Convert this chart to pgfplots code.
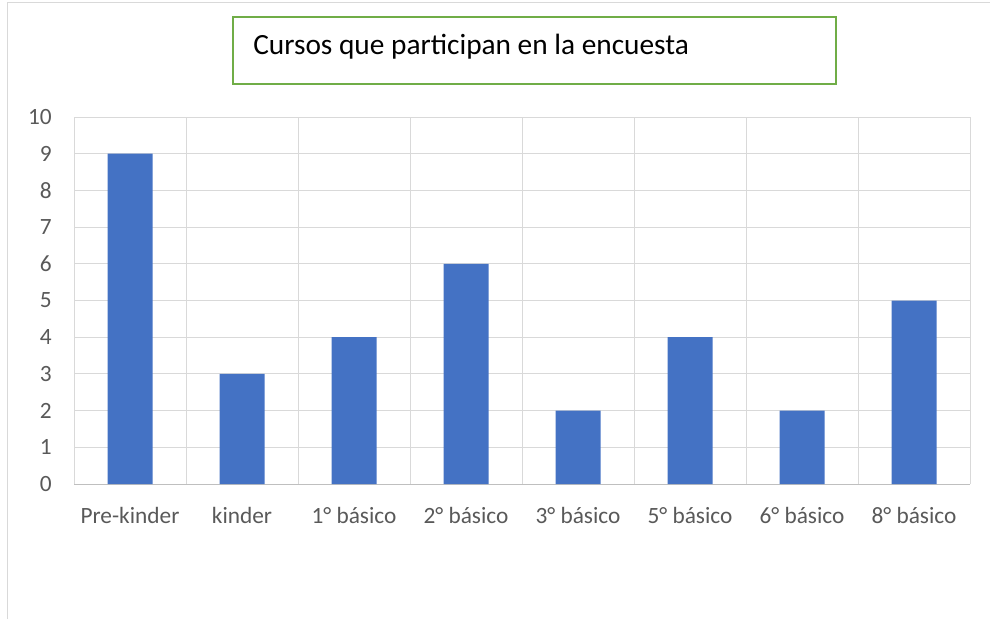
\documentclass[border=0pt]{standalone}
\usepackage{pgfplots}
\pgfplotsset{compat=1.18}
\usepackage{fontspec}
\setmainfont{Carlito}
\definecolor{barblue}{HTML}{4472C4}
\definecolor{gridgray}{HTML}{D9D9D9}
\definecolor{axisgray}{HTML}{BFBFBF}
\definecolor{labelgray}{HTML}{595959}
\definecolor{boxgreen}{HTML}{70AD47}
\begin{document}
\begin{tikzpicture}[x=0.75pt,y=0.75pt]
\useasboundingbox (0,0) rectangle (990,619);
% outer chart frame (only top and left edges visible)
\draw[gridgray, line width=0.75pt] (7,0) -- (7,616) -- (990,616);
% title box
\draw[boxgreen, line width=1.5pt] (233,535) rectangle (836,602);
\node[anchor=base west, inner sep=0pt, font=\fontsize{22}{26}\selectfont]
  at (253,564) {Cursos que participan en la encuesta};
\begin{axis}[
    at={(55.5pt,101.25pt)}, anchor=south west,
    scale only axis,
    width=672pt, height=275.25pt,
    ybar,
    bar width=33.75pt,
    xmin=-0.5, xmax=7.5,
    ymin=0, ymax=10,
    xtick=data,
    xticklabels={Pre-kinder, kinder, 1° básico, 2° básico, 3° básico, 5° básico, 6° básico, 8° básico},
    minor xtick={-0.5,0.5,...,7.5},
    ytick={0,1,...,10},
    extra y ticks={0},
    extra y tick labels={},
    extra y tick style={grid style={axisgray, line width=0.75pt}},
    xminorgrids, ymajorgrids,
    grid style={gridgray, line width=0.75pt},
    minor grid style={gridgray, line width=0.75pt},
    axis line style={draw=none},
    major tick length=0pt, minor tick length=0pt,
    tick style={draw=none},
    /pgf/number format/assume math mode=true,
    tick label style={font=\fontsize{17.5}{21}\selectfont, text=labelgray, inner sep=0pt},
    yticklabel style={anchor=east, xshift=-16.5pt},
    xticklabel style={anchor=base, yshift=-29.25pt},
]
\addplot[fill=barblue, draw=none] coordinates {
    (0,9) (1,3) (2,4) (3,6) (4,2) (5,4) (6,2) (7,5)
};
\end{axis}
\end{tikzpicture}
\end{document}
